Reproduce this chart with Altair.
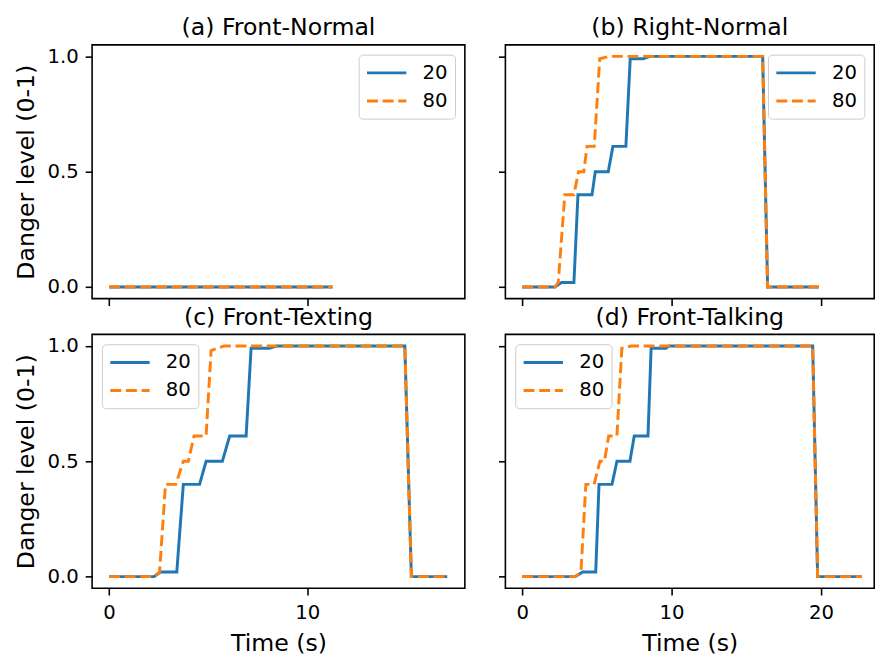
import altair as alt
import pandas as pd

SERIES = ["20", "80"]
COLORS = ["#1f77b4", "#ff7f0e"]
DASHES = [[1, 0], [11.1, 4.8]]

# (a) Front-Normal
a_t20 = [0.0, 11.28]
a_v20 = [0.0, 0.0]
a_t80 = [0.0, 11.28]
a_v80 = [0.0, 0.0]

# (b) Right-Normal
b_t20 = [0.0, 2.19, 2.63, 3.46, 3.73, 4.67, 4.89, 5.76, 6.07, 6.94, 7.23, 8.11, 8.54, 16.10, 16.43, 19.87]
b_v20 = [0.0, 0.0, 0.02, 0.02, 0.40, 0.40, 0.50, 0.50, 0.61, 0.61, 0.99, 0.99, 1.0, 1.0, 0.0, 0.0]
b_t80 = [0.0, 2.19, 2.41, 2.85, 3.46, 3.77, 4.12, 4.34, 4.82, 5.19, 5.81, 16.10, 16.43, 19.87]
b_v80 = [0.0, 0.0, 0.02, 0.40, 0.40, 0.50, 0.50, 0.61, 0.61, 0.99, 1.0, 1.0, 0.0, 0.0]

# (c) Front-Texting
c_t20 = [0.0, 2.27, 2.60, 3.42, 3.75, 4.57, 4.90, 5.72, 6.09, 6.92, 7.17, 8.11, 8.44, 14.93, 15.26, 17.07]
c_v20 = [0.0, 0.0, 0.02, 0.02, 0.40, 0.40, 0.50, 0.50, 0.61, 0.61, 0.99, 0.99, 1.0, 1.0, 0.0, 0.0]
c_t80 = [0.0, 2.27, 2.55, 2.85, 3.37, 3.75, 4.00, 4.29, 4.90, 5.15, 5.81, 14.93, 15.26, 17.07]
c_v80 = [0.0, 0.0, 0.02, 0.40, 0.40, 0.50, 0.50, 0.61, 0.61, 0.98, 1.0, 1.0, 0.0, 0.0]

# (d) Front-Talking
d_t20 = [0.0, 3.54, 4.04, 4.92, 5.14, 6.01, 6.34, 7.21, 7.50, 8.42, 8.63, 9.62, 9.84, 19.45, 19.78, 22.73]
d_v20 = [0.0, 0.0, 0.02, 0.02, 0.40, 0.40, 0.50, 0.50, 0.61, 0.61, 0.99, 0.99, 1.0, 1.0, 0.0, 0.0]
d_t80 = [0.0, 3.54, 3.93, 4.26, 4.81, 5.20, 5.50, 5.79, 6.34, 6.67, 7.32, 19.45, 19.78, 22.73]
d_v80 = [0.0, 0.0, 0.02, 0.40, 0.40, 0.50, 0.50, 0.61, 0.61, 0.99, 1.0, 1.0, 0.0, 0.0]

TITLES = ["(a) Front-Normal", "(b) Right-Normal", "(c) Front-Texting", "(d) Front-Talking"]
Y_TICKS = [0.0, 0.5, 1.0]
X_TICKS_LEFT = [0, 10]
X_TICKS_RIGHT = [0, 10, 20]

FONT = "DejaVu Sans"


def frame(t20, v20, t80, v80):
    rows = []
    for t, v in zip(t20, v20):
        rows.append({"time": t, "level": v, "series": SERIES[0]})
    for t, v in zip(t80, v80):
        rows.append({"time": t, "level": v, "series": SERIES[1]})
    return pd.DataFrame(rows)


def panel(df, title, xdomain, xticks, width, bottom, left, legend_orient):
    leg = alt.Legend(
        title=None, orient=legend_orient, offset=10, padding=7,
        fillColor="rgba(255,255,255,0.8)", strokeColor="#cccccc", cornerRadius=4,
        symbolType="M-1,0H3", symbolSize=400, symbolStrokeWidth=3,
        labelFontSize=20, labelFont=FONT, labelColor="black", labelOffset=35,
        rowPadding=6.6,
    )
    return alt.Chart(df).mark_line(strokeWidth=3, clip=True).encode(
        x=alt.X("time:Q",
                scale=alt.Scale(domain=xdomain, nice=False, zero=False),
                axis=alt.Axis(values=xticks, labels=bottom, format="d",
                              title="Time (s)" if bottom else None)),
        y=alt.Y("level:Q",
                scale=alt.Scale(domain=[-0.05, 1.05], nice=False, zero=False),
                axis=alt.Axis(values=Y_TICKS, labels=left, format=".1f",
                              title="Danger level (0-1)" if left else None)),
        color=alt.Color("series:N", scale=alt.Scale(domain=SERIES, range=COLORS), legend=leg),
        strokeDash=alt.StrokeDash("series:N", scale=alt.Scale(domain=SERIES, range=DASHES), legend=leg),
    ).properties(
        width=width, height=258,
        title=alt.TitleParams(title, fontSize=24, font=FONT, fontWeight="normal",
                              color="black", offset=-14, anchor="middle", baseline="alphabetic"),
    )


LEFT_DOMAIN = [-0.855, 17.96]
RIGHT_DOMAIN = [-1.13, 23.57]

pa = panel(frame(a_t20, a_v20, a_t80, a_v80), TITLES[0], LEFT_DOMAIN, X_TICKS_LEFT, 379, False, True, "top-right")
pb = panel(frame(b_t20, b_v20, b_t80, b_v80), TITLES[1], RIGHT_DOMAIN, X_TICKS_RIGHT, 375, False, False, "top-right")
pc = panel(frame(c_t20, c_v20, c_t80, c_v80), TITLES[2], LEFT_DOMAIN, X_TICKS_LEFT, 379, True, True, "top-left")
pd_ = panel(frame(d_t20, d_v20, d_t80, d_v80), TITLES[3], RIGHT_DOMAIN, X_TICKS_RIGHT, 375, True, False, "top-left")

chart = alt.concat(
    pa, pb, pc, pd_, columns=2, spacing={"row": 36.4, "column": 41.2}, bounds="flush", align="each"
).resolve_scale(
    x="independent", y="independent", color="independent", strokeDash="independent"
).resolve_legend(
    color="independent", strokeDash="independent"
).configure_view(
    stroke="black", strokeWidth=1.6
).configure_axis(
    domain=False, grid=False, tickColor="black", tickWidth=1.6, tickSize=7,
    labelFont=FONT, labelFontSize=20, labelColor="black",
    titleFont=FONT, titleFontSize=24, titleFontWeight="normal", titleColor="black",
).configure_axisX(
    labelPadding=8, titlePadding=9.5,
).configure_axisY(
    labelPadding=7, titlePadding=8.4,
).properties(
    padding={"left": 5.5, "top": 2, "right": 0, "bottom": 0},
    background="white",
)

chart.save("out.html", embed_options={"renderer": "svg", "actions": False})
